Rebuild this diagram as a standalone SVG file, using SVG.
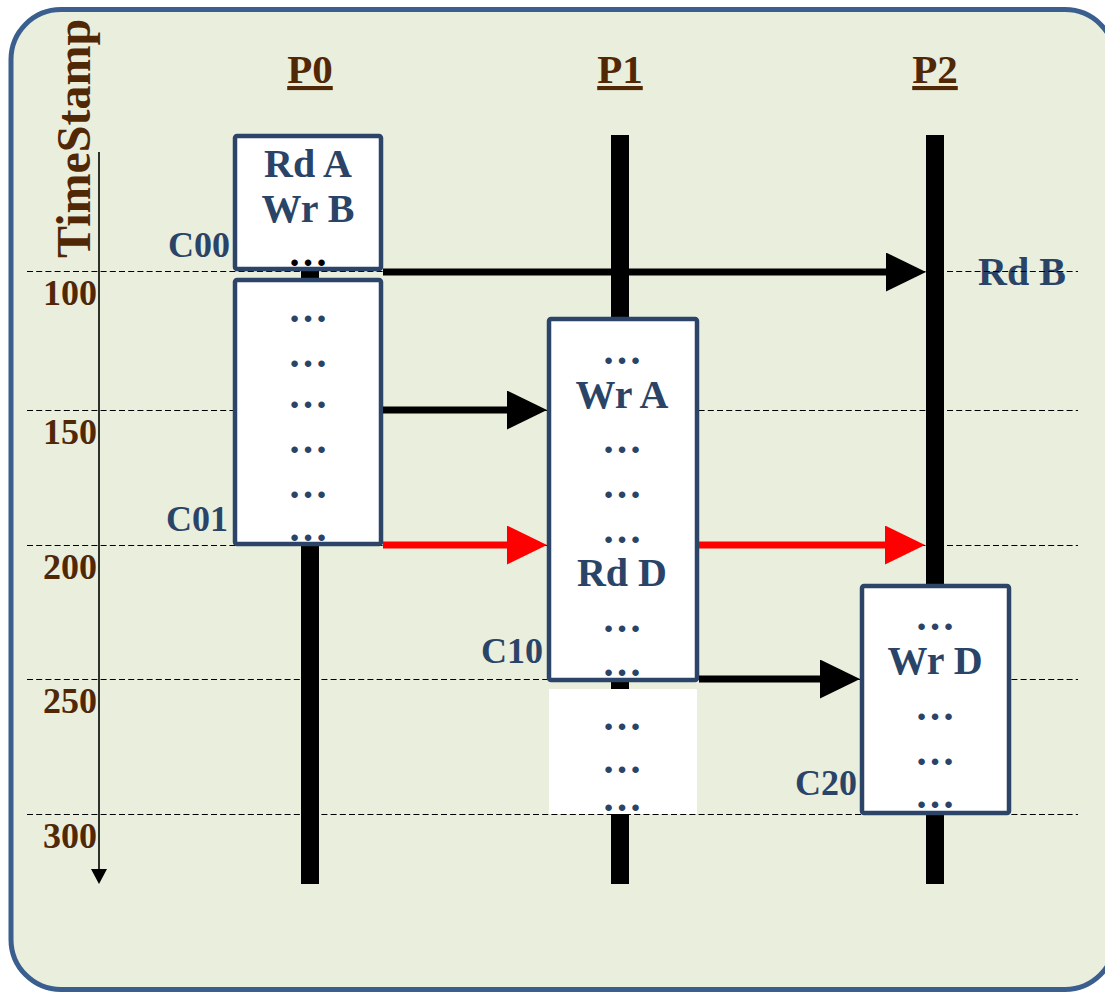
<svg xmlns="http://www.w3.org/2000/svg" width="1105" height="993" viewBox="0 0 1105 993">
<style>
.bg{fill:#eaeedd;stroke:#3a5f8e;stroke-width:5}
.dash{stroke:#000;stroke-width:1.2;stroke-dasharray:6 3.2}
.life{fill:#000}
.box{fill:#fff;stroke:#2b4467;stroke-width:4.5}
.t{font-family:"Liberation Serif","Times New Roman",serif;font-weight:bold}
.blue{fill:#2a4468}
.brown{fill:#512805}
.op{font-size:40px;text-anchor:middle}
.dots{font-size:40px;text-anchor:middle;fill:#2a4468}
.cl{font-size:36px;text-anchor:end;fill:#2a4468}
.num{font-size:36px;text-anchor:end;fill:#512805}
.plab{font-size:41px;text-anchor:middle;fill:#512805;text-decoration:underline;text-decoration-thickness:3px;text-underline-offset:6px}
.arr{stroke:#000;stroke-width:7;fill:none}
.arr-red{stroke:#ff0000;stroke-width:7;fill:none}
</style>
<defs>
<marker id="headBlack" markerUnits="userSpaceOnUse" markerWidth="41" markerHeight="40" refX="1" refY="19.5" orient="auto">
<path d="M0,0 L40,19.5 L0,39 Z" fill="#000"/>
</marker>
<marker id="headRed" markerUnits="userSpaceOnUse" markerWidth="41" markerHeight="40" refX="1" refY="19.5" orient="auto">
<path d="M0,0 L40,19.5 L0,39 Z" fill="#ff0000"/>
</marker>
</defs>

<rect class="bg" x="11" y="9.5" width="1104" height="980" rx="50" ry="50"/>

<text id="rdB" class="t op blue" x="1022" y="285">Rd B</text>

<g id="gridlines">
<line class="dash" x1="27" y1="271.5" x2="1078" y2="271.5"/>
<line class="dash" x1="27" y1="410.5" x2="1078" y2="410.5"/>
<line class="dash" x1="27" y1="545.5" x2="1078" y2="545.5"/>
<line class="dash" x1="27" y1="679.5" x2="1078" y2="679.5"/>
<line class="dash" x1="27" y1="814.5" x2="1078" y2="814.5"/>
</g>

<g id="timeAxis">
<line x1="99" y1="152" x2="99" y2="871" stroke="#000" stroke-width="1.6"/>
<path d="M91,869 L107,869 L99,884 Z" fill="#000"/>
<text class="t brown" font-size="48" transform="translate(90,258) rotate(-90)" x="0" y="0">TimeStamp</text>
<text class="t num" x="97" y="305">100</text>
<text class="t num" x="97" y="444">150</text>
<text class="t num" x="97" y="579">200</text>
<text class="t num" x="97" y="713">250</text>
<text class="t num" x="97" y="848">300</text>
</g>

<g id="P0">
<text class="t plab" x="310" y="83">P0</text>
<rect class="life" x="301" y="135" width="18" height="749"/>
<g id="C00">
<rect class="box" x="235" y="136" width="146" height="133" rx="2"/>
<text class="t op blue" x="308" y="177">Rd A</text>
<text class="t op blue" x="308" y="222">Wr B</text>
<text class="t dots" x="308" y="266" style="fill:#000">…</text>
<text class="t cl" x="230" y="257">C00</text>
</g>
<g id="C01">
<rect class="box" x="235" y="280" width="146" height="264" rx="2"/>
<text class="t dots" x="308" y="322">…</text>
<text class="t dots" x="308" y="367">…</text>
<text class="t dots" x="308" y="408">…</text>
<text class="t dots" x="308" y="453">…</text>
<text class="t dots" x="308" y="498">…</text>
<text class="t dots" x="308" y="541">…</text>
<text class="t cl" x="228" y="531">C01</text>
</g>
</g>

<g id="P1">
<text class="t plab" x="620" y="83">P1</text>
<rect class="life" x="611" y="135" width="18" height="749"/>
<g id="C10">
<rect class="box" x="549" y="319" width="148" height="361" rx="2"/>
<text class="t dots" x="622" y="364">…</text>
<text class="t op blue" x="622" y="408">Wr A</text>
<text class="t dots" x="622" y="453">…</text>
<text class="t dots" x="622" y="498">…</text>
<text class="t dots" x="622" y="543">…</text>
<text class="t op blue" x="622" y="586">Rd D</text>
<text class="t dots" x="622" y="632">…</text>
<text class="t dots" x="622" y="676">…</text>
<text class="t cl" x="543" y="663">C10</text>
</g>
<g id="P1tail">
<rect x="549" y="689" width="148" height="125" fill="#fff"/>
<text class="t dots" x="622" y="730">…</text>
<text class="t dots" x="622" y="773">…</text>
<text class="t dots" x="622" y="811">…</text>
</g>
</g>

<g id="P2">
<text class="t plab" x="935" y="83">P2</text>
<rect class="life" x="926" y="135" width="18" height="749"/>
<g id="C20">
<rect class="box" x="862" y="586" width="147" height="227" rx="2"/>
<text class="t dots" x="935" y="630">…</text>
<text class="t op blue" x="935" y="674">Wr D</text>
<text class="t dots" x="935" y="720">…</text>
<text class="t dots" x="935" y="765">…</text>
<text class="t dots" x="935" y="808">…</text>
<text class="t cl" x="857" y="795">C20</text>
</g>
</g>

<g id="connectors">
<line class="arr" x1="383" y1="272" x2="887" y2="272" marker-end="url(#headBlack)"/>
<line class="arr" x1="383" y1="410" x2="508" y2="410" marker-end="url(#headBlack)"/>
<line class="arr-red" x1="383" y1="545" x2="508" y2="545" marker-end="url(#headRed)"/>
<line class="arr-red" x1="699" y1="545" x2="886" y2="545" marker-end="url(#headRed)"/>
<line class="arr" x1="699" y1="679" x2="821" y2="679" marker-end="url(#headBlack)"/>
</g>
</svg>
